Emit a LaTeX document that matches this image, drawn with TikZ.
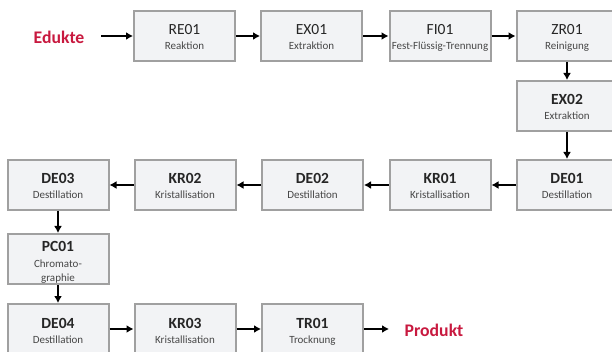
\documentclass[tikz,border=0pt]{standalone}
\usepackage{fontspec}
\setmainfont{Carlito}
\usetikzlibrary{arrows.meta}
\definecolor{boxfill}{HTML}{F2F3F5}
\definecolor{boxline}{HTML}{A0A0A0}
\definecolor{codecol}{HTML}{262626}
\definecolor{subcol}{HTML}{474747}
\definecolor{accent}{HTML}{C8193F}
\tikzset{
  procbox/.style={draw=boxline, fill=boxfill, line width=2pt, minimum width=101pt, minimum height=50pt, inner sep=0pt},
  codet/.style={inner sep=0pt, anchor=base, text=codecol, font=\fontsize{15.5}{16}\selectfont},
  codeb/.style={codet, font=\fontsize{15.5}{16}\selectfont\bfseries},
  subt/.style={inner sep=0pt, anchor=base, text=subcol, font=\fontsize{11}{12}\selectfont},
  endlabel/.style={inner sep=0pt, text=accent, font=\fontsize{17.7}{19}\selectfont\bfseries},
  arr/.style={line width=1.5pt, -{Latex[length=7pt,width=8pt]}}
}
\newcommand\procnode[6]{%
  \node[procbox] (#1) at (#2,#3) {};
  \node[#6] (#1c) at ([yshift=1pt]#1.center) {#4};
  \node[subt] (#1s) at ([yshift=-14pt]#1.center) {#5};
}
\begin{document}
\begin{tikzpicture}[x=1pt,y=-1pt]
\useasboundingbox (0,0) rectangle (612,352);
\clip (0,0) rectangle (612,352);
% row 1
\procnode{re}{184.5}{36}{RE01}{Reaktion}{codet}
\procnode{exa}{311.5}{36}{EX01}{Extraktion}{codet}
\procnode{fi}{440}{36}{FI01}{Fest-Flüssig-Trennung}{codet}
\procnode{zr}{567}{36}{ZR01}{Reinigung}{codet}
% column right
\procnode{exb}{567}{106}{EX02}{Extraktion}{codeb}
% row 3
\procnode{dea}{567}{185}{DE01}{Destillation}{codeb}
\procnode{kra}{440}{185}{KR01}{Kristallisation}{codeb}
\procnode{deb}{312.5}{185}{DE02}{Destillation}{codeb}
\procnode{krb}{185}{185}{KR02}{Kristallisation}{codeb}
\procnode{dec}{58}{185}{DE03}{Destillation}{codeb}
% PC01
\node[procbox] (pc) at (58,259) {};
\node[codeb] (pcc) at ([yshift=7pt]pc.center) {PC01};
\node[subt] (pcs1) at ([yshift=-8pt]pc.center) {Chromato-};
\node[subt] (pcs2) at ([yshift=-22pt]pc.center) {graphie};
% row 5
\procnode{ded}{58}{329}{DE04}{Destillation}{codeb}
\procnode{krc}{185}{329}{KR03}{Kristallisation}{codeb}
\procnode{tr}{312.5}{329}{TR01}{Trocknung}{codeb}
% end labels
\node[endlabel] (edukte) at (59,37) {Edukte};
\node[endlabel] (produkt) at (434,330) {Produkt};
\coordinate (ein) at (101,36);
\coordinate (aus) at (389,329);
% connectors
\draw[arr] (ein) -- (re.west);
\draw[arr] (re) -- (exa);
\draw[arr] (exa) -- (fi);
\draw[arr] (fi) -- (zr);
\draw[arr] (zr) -- (exb);
\draw[arr] (exb) -- (dea);
\draw[arr] (dea) -- (kra);
\draw[arr] (kra) -- (deb);
\draw[arr] (deb) -- (krb);
\draw[arr] (krb) -- (dec);
\draw[arr] (dec) -- (pc);
\draw[arr] (pc) -- (ded);
\draw[arr] (ded) -- (krc);
\draw[arr] (krc) -- (tr);
\draw[arr] (tr.east) -- (aus);
\end{tikzpicture}
\end{document}
